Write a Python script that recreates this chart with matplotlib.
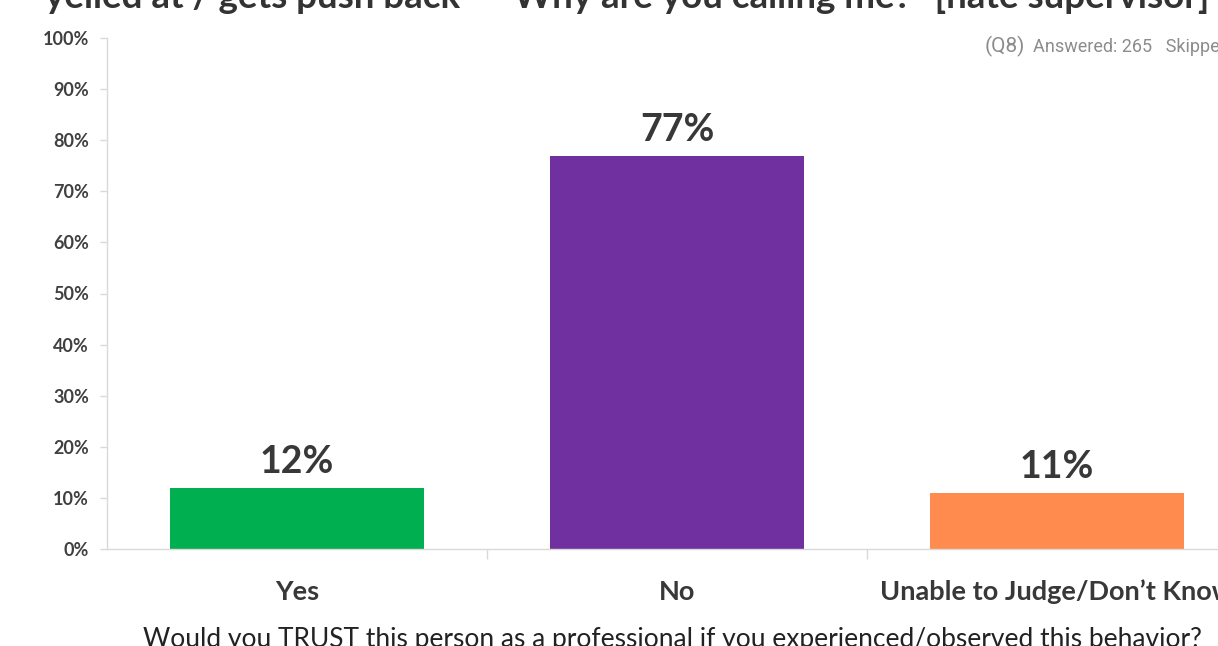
import matplotlib
matplotlib.use("Agg")
import matplotlib.pyplot as plt
from matplotlib.ticker import PercentFormatter

categories = ["Yes", "No", "Unable to Judge/Don\u2019t Know"]
values = [12, 77, 11]
colors = ["#00B050", "#7030A0", "#FF8B4F"]
yticks = [0, 10, 20, 30, 40, 50, 60, 70, 80, 90, 100]

title = "yelled at / gets push back \u2013 \u201cWhy are you calling me?\u201d [hate supervisor]"
xlabel = "Would you TRUST this person as a professional if you experienced/observed this behavior?"

plt.rcParams["font.family"] = ["Lato", "DejaVu Sans"]

fig = plt.figure(figsize=(12.18, 6.46), dpi=100)
ax = fig.add_axes([107/1218, 97/646, 1140/1218, 511/646])

x = list(range(len(categories)))
bars = ax.bar(x, values, width=0.668, color=colors, zorder=2)
for xi, v in zip(x, values):
    ax.annotate(f"{v}%", (xi, v), xytext=(0, 6), textcoords="offset points",
                ha="center", va="bottom", fontsize=27, fontweight="bold", color="#383838")

ax.set_xlim(-0.5, 2.5)
ax.set_ylim(0, 100)
ax.set_yticks(yticks)
ax.yaxis.set_major_formatter(PercentFormatter(decimals=0))
ax.tick_params(axis="y", length=5, width=1, color="#d9d9d9", pad=8,
               labelsize=13, labelcolor="#404040")
for lab in ax.get_yticklabels():
    lab.set_fontweight("bold")

ax.set_xticks(x)
ax.set_xticklabels(categories, fontsize=19.5, fontweight="bold", color="#383838")
ax.tick_params(axis="x", which="major", length=0, pad=22)
ax.set_xticks([0.5, 1.5], minor=True)
ax.tick_params(axis="x", which="minor", length=7, width=1, color="#d9d9d9")

for s in ["top", "right"]:
    ax.spines[s].set_visible(False)
for s in ["left", "bottom"]:
    ax.spines[s].set_color("#d9d9d9")
    ax.spines[s].set_linewidth(1)

fig.text(45/1218, 1 - 8/646, title, fontsize=26.5, fontweight="bold", color="#333333",
         ha="left", va="baseline")
fig.text(985/1218, 1 - 52/646, "(Q8)", fontsize=15, color="#8c8c8c",
         family=["Roboto", "DejaVu Sans"], ha="left", va="baseline")
fig.text(1033/1218, 1 - 52/646, "Answered: 265   Skipped", fontsize=13, color="#8c8c8c",
         family=["Roboto", "DejaVu Sans"], ha="left", va="baseline")
fig.text(672/1218, -1/646, xlabel, fontsize=19, color="#222222",
         ha="center", va="baseline")

fig.savefig("out.png", dpi=100)
